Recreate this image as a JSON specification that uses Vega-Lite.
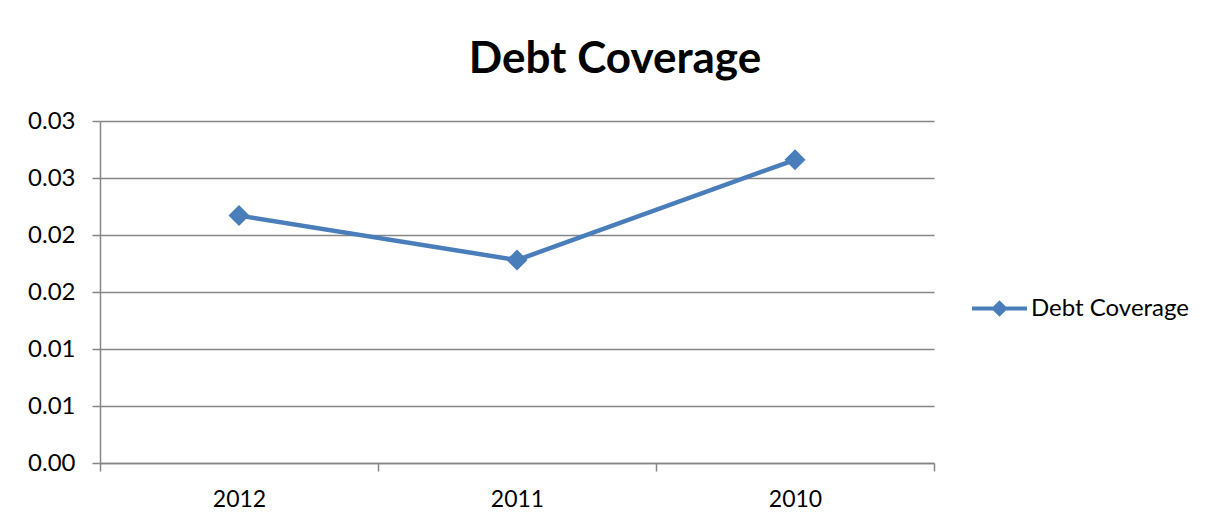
{
  "$schema": "https://vega.github.io/schema/vega-lite/v6.json",
  "autosize": "none",
  "width": 834,
  "height": 342,
  "padding": {"left": 100, "top": 121, "right": 279, "bottom": 61},
  "background": "white",
  "title": {
    "text": "Debt Coverage",
    "font": "Lato",
    "fontSize": 44,
    "fontWeight": "bold",
    "color": "#000000",
    "anchor": "middle",
    "frame": "group",
    "dx": 98,
    "baseline": "alphabetic",
    "offset": -8
  },
  "data": {
    "values": [
      {"year": "2012", "value": 0.0217, "series": "Debt Coverage"},
      {"year": "2011", "value": 0.0178, "series": "Debt Coverage"},
      {"year": "2010", "value": 0.0266, "series": "Debt Coverage"}
    ]
  },
  "encoding": {
    "x": {
      "field": "year",
      "type": "nominal",
      "sort": null,
      "scale": {"paddingInner": 0, "paddingOuter": 0},
      "axis": {
        "title": null,
        "labelAngle": 0,
        "tickBand": "extent",
        "tickSize": 8,
        "tickColor": "#868686",
        "tickWidth": 1.5,
        "domainColor": "#868686",
        "domainWidth": 1.5,
        "labelFont": "Lato",
        "labelFontSize": 23,
        "labelColor": "#000000",
        "labelPadding": 17,
        "grid": false
      }
    },
    "y": {
      "field": "value",
      "type": "quantitative",
      "scale": {"domain": [0, 0.03], "nice": false},
      "axis": {
        "title": null,
        "values": [0, 0.005, 0.01, 0.015, 0.02, 0.025, 0.03],
        "labelExpr": "format(datum.value + 0.000001, '.2f')",
        "tickSize": 8,
        "tickColor": "#868686",
        "tickWidth": 1.5,
        "domainColor": "#868686",
        "domainWidth": 1.5,
        "gridColor": "#868686",
        "gridWidth": 1.5,
        "labelFont": "Lato",
        "labelFontSize": 24,
        "labelColor": "#000000",
        "labelPadding": 17
      }
    },
    "color": {
      "field": "series",
      "type": "nominal",
      "scale": {"range": ["#4A7EBB"]},
      "legend": {
        "title": null,
        "orient": "none",
        "legendX": 872,
        "legendY": 160,
        "symbolType": "M-1,-0.075L1,-0.075L1,0.075L-1,0.075Z M0,-0.3L0.3,0L0,0.3L-0.3,0Z",
        "symbolSize": 3025,
        "symbolFillColor": "#4A7EBB",
        "symbolStrokeWidth": 0,
        "symbolOpacity": 1,
        "labelFont": "Lato",
        "labelFontSize": 24,
        "labelColor": "#000000",
        "labelOffset": 4
      }
    }
  },
  "layer": [
    {"mark": {"type": "line", "strokeWidth": 4.5}},
    {"mark": {"type": "point", "shape": "diamond", "filled": true, "size": 441, "opacity": 1}}
  ],
  "config": {
    "view": {"stroke": null}
  }
}
